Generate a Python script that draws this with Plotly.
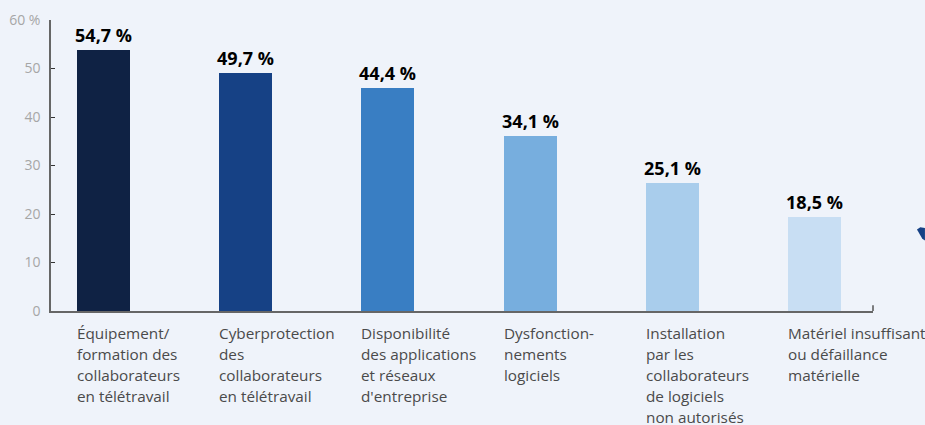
import plotly.graph_objects as go

categories = [
    "Équipement/<br>formation des<br>collaborateurs<br>en télétravail",
    "Cyberprotection<br>des<br>collaborateurs<br>en télétravail",
    "Disponibilité<br>des applications<br>et réseaux<br>d'entreprise",
    "Dysfonction-<br>nements<br>logiciels",
    "Installation<br>par les<br>collaborateurs<br>de logiciels<br>non autorisés",
    "Matériel insuffisant<br>ou défaillance<br>matérielle",
]
values = [54.7, 49.7, 44.4, 34.1, 25.1, 18.5]
bar_heights = [53.9, 49.0, 45.9, 36.0, 26.4, 19.4]
value_labels = ["54,7 %", "49,7 %", "44,4 %", "34,1 %", "25,1 %", "18,5 %"]
colors = ["#0f2244", "#164185", "#397ec3", "#77aede", "#a9cdec", "#c8def3"]
y_tick_vals = [0, 10, 20, 30, 40, 50, 60]
y_tick_text = ["0", "10", "20", "30", "40", "50", "60 %"]

BG = "#eff3fa"
bar_w = 0.373
xs = list(range(len(categories)))

fig = go.Figure()
fig.add_trace(go.Bar(
    x=xs, y=bar_heights, width=bar_w,
    marker=dict(color=colors, line=dict(width=0)),
    text=value_labels, textposition="outside", cliponaxis=False,
    constraintext="none",
    textfont=dict(family="Open Sans", size=18, color="#000000", weight="bold"),
    hoverinfo="skip",
))

annotations = []
for i, cat in enumerate(categories):
    for j, line in enumerate(cat.split("<br>")):
        annotations.append(dict(
            x=i - bar_w / 2, xref="x", xanchor="left", xshift=-2,
            y=0, yref="paper", yshift=-(333 - 311) - 21 * j, yanchor="middle",
            text=line, showarrow=False, align="left",
            font=dict(family="Open Sans", size=15.3, color="#4a4a4a"),
        ))

fig.update_layout(
    width=925, height=425,
    margin=dict(l=51, r=52, t=20, b=114, autoexpand=False),
    paper_bgcolor=BG, plot_bgcolor=BG,
    showlegend=False,
    bargap=0,
    annotations=annotations,
    xaxis=dict(
        range=[-0.369, 5.41], showticklabels=False, ticks="",
        showgrid=False, zeroline=False, showline=True, automargin=False,
        linecolor="#666666", linewidth=1.5, fixedrange=True,
    ),
    yaxis=dict(
        range=[0, 60], tickvals=y_tick_vals, ticktext=y_tick_text,
        ticks="inside", ticklen=4, tickcolor="#333333", tickwidth=1,
        showgrid=False, zeroline=False, showline=True, automargin=False,
        linecolor="#666666", linewidth=1.5,
        tickfont=dict(family="Open Sans", size=14, color="#a6a6a6"),
        ticklabelstandoff=6,
    ),
    shapes=[
        dict(type="line", xref="paper", yref="paper", x0=1, x1=1, y0=0, y1=0.02,
             line=dict(color="#555555", width=1.5)),
        dict(type="path", xref="paper", yref="paper",
             path="M 1.0535,0.280 L 1.0575,0.288 L 1.0632,0.285 L 1.0632,0.242 L 1.0600,0.248 Z",
             fillcolor="#164185", line=dict(width=0)),
    ],
)

fig.write_html("out.html")
